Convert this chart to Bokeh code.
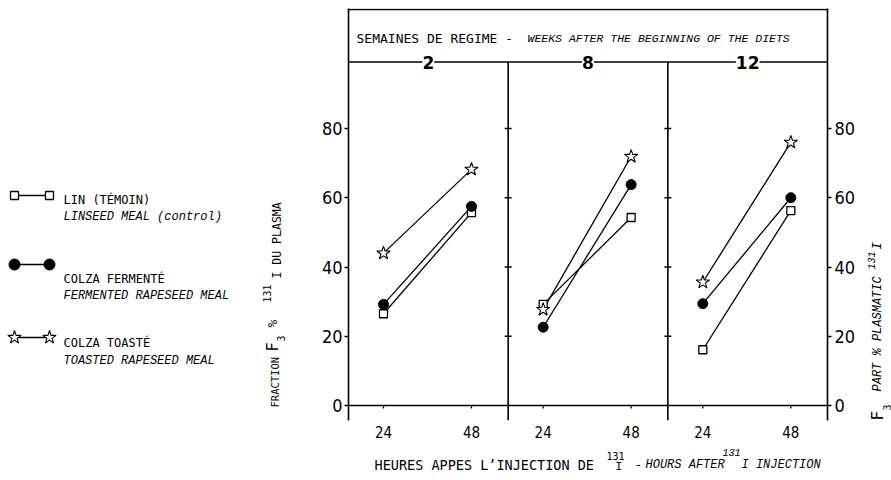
import math
from bokeh.plotting import figure
from bokeh.layouts import row, column
from bokeh.models import FixedTicker, LinearAxis, Label, Span, Range1d
from bokeh.embed import file_html
from bokeh.resources import INLINE

# ---------------- data ----------------
weeks = ["2", "8", "12"]                 # weeks after the beginning of the diets
hours = [24, 48]                          # hours after 131I injection
lin = [[26.5, 55.7], [29.2, 54.3], [16.1, 56.3]]   # LIN (TÉMOIN)
fer = [[29.2, 57.5], [22.6, 63.8], [29.4, 60.0]]   # COLZA FERMENTÉ
toa = [[44.0, 68.2], [27.7, 71.9], [35.6, 76.0]]   # COLZA TOASTÉ
y_ticks = [0, 20, 40, 60, 80]
x_tick_labels = ["24", "48"]

# ---------------- layout constants ----------------
PW = 43.55      # width of one panel in hours
H0 = 14.455     # hour value at left edge of a panel
FRAME_T, FRAME_B = 8, 420
FRAME_L, FRAME_W = 348, 479
ZERO_PX = 405
PX_PER_UNIT = 3.4625
Y0 = (ZERO_PX - FRAME_B) / PX_PER_UNIT
Y1 = (ZERO_PX - FRAME_T) / PX_PER_UNIT
HEADER_Y = 99.2
W_LEG = 290
W_RIGHT = 29
TOTAL_W = 891
ROW_H = 445
BOT_H = 35
W_MAIN = TOTAL_W - W_LEG - W_RIGHT
MB_L = FRAME_L - W_LEG
MB_R = W_MAIN - MB_L - FRAME_W

REG = "DejaVu Sans Mono"
ITA = "Liberation Mono"
NUM = "DejaVu Sans Condensed"


def X(pi, h):
    return pi * PW + h - H0


def px2x(ix):
    return (ix - FRAME_L) / FRAME_W * 3 * PW


def px2y(iy):
    return (ZERO_PX - iy) / PX_PER_UNIT


p = figure(width=W_MAIN, height=ROW_H, x_range=Range1d(0, 3 * PW), y_range=Range1d(Y0, Y1),
           output_backend="svg", toolbar_location=None, title=None,
           min_border_left=MB_L, min_border_right=MB_R, min_border_top=FRAME_T,
           min_border_bottom=ROW_H - FRAME_B)
p.grid.visible = False
p.outline_line_color = None
p.background_fill_color = "white"
p.border_fill_color = "white"


def style_y(ax, standoff):
    ax.ticker = FixedTicker(ticks=y_ticks)
    ax.minor_tick_line_color = None
    ax.major_tick_in = 0
    ax.major_tick_out = 4
    ax.major_tick_line_width = 1.3
    ax.axis_line_width = 1.6
    ax.axis_line_color = "black"
    ax.major_label_standoff = standoff
    ax.major_label_text_font = NUM
    ax.major_label_text_font_size = "18px"
    ax.major_label_text_color = "black"


style_y(p.yaxis[0], 2)
ra = LinearAxis()
style_y(ra, 3)
p.add_layout(ra, "right")

tick_x = []
overrides = {}
for pi in range(3):
    for h, lab_ in zip(hours, x_tick_labels):
        t = round(X(pi, h), 4)
        tick_x.append(t)
        overrides[t] = lab_
xa = p.xaxis[0]
xa.ticker = FixedTicker(ticks=tick_x)
xa.major_label_overrides = overrides
xa.axis_line_color = None
xa.major_tick_line_color = None
xa.minor_tick_line_color = None
xa.major_tick_in = 0
xa.major_tick_out = 0
xa.major_label_standoff = 5
xa.major_label_text_font = NUM
xa.major_label_text_font_size = "15px"
xa.major_label_text_color = "black"

# frame lines
p.add_layout(Span(location=0, dimension="width", line_color="black", line_width=1.4))
p.add_layout(Span(location=HEADER_Y, dimension="width", line_color="black", line_width=1.6))
p.add_layout(Span(location=Y1 - 0.3, dimension="width", line_color="black", line_width=1.4))

div_x = [PW, 2 * PW]
p.segment(x0=div_x, y0=[Y0] * 2, x1=div_x, y1=[HEADER_Y] * 2, line_color="black", line_width=1.6)
p.scatter(x=[d for d in div_x for _ in y_ticks[1:]], y=[t for _ in div_x for t in y_ticks[1:]],
          marker="dash", size=7, line_color="black", line_width=1.3)
p.segment(x0=tick_x, y0=[0] * len(tick_x), x1=tick_x, y1=[-0.9] * len(tick_x),
          line_color="black", line_width=1.2)

# series
for pi in range(3):
    xs = [X(pi, h) for h in hours]
    for vals in (lin[pi], fer[pi], toa[pi]):
        p.line(xs, vals, line_color="black", line_width=1.3)
    p.scatter(xs, lin[pi], marker="square", size=8, fill_color="white", line_color="black", line_width=1.3)
    p.scatter(xs, fer[pi], marker="circle", size=10, fill_color="black", line_color="black")
    p.scatter(xs, toa[pi], marker="star", size=14, fill_color="white", line_color="black", line_width=1.1)

# header
for pi, w in enumerate(weeks):
    p.add_layout(Label(x=(pi + 0.5) * PW, y=HEADER_Y, text=w, text_align="center", text_baseline="middle",
                       text_font="DejaVu Sans", text_font_style="bold", text_font_size="17px",
                       text_color="black", background_fill_color="white"))


def lab(fig, x, y, text, font=REG, size=12, style="normal", angle=0.0, align="left"):
    fig.add_layout(Label(x=x, y=y, text=text, text_font=font, text_font_size=f"{size}px",
                         text_font_style=style, text_align=align, text_baseline="middle",
                         angle=angle, text_color="black"))


lab(p, px2x(356), px2y(38), "SEMAINES DE REGIME -", size=13)
lab(p, px2x(527), px2y(38), "WEEKS AFTER THE BEGINNING OF THE DIETS", font=ITA, size=11.5, style="italic")

R = math.pi / 2


def text_fig(width, height, x0, y0, mb_top=0, mb_bottom=0):
    f = figure(width=width, height=height,
               x_range=Range1d(x0, x0 + width),
               y_range=Range1d(y0 + height - mb_top - mb_bottom, y0),
               output_backend="svg", toolbar_location=None, title=None,
               x_axis_location=None, y_axis_location=None,
               min_border_left=0, min_border_right=0,
               min_border_top=mb_top, min_border_bottom=mb_bottom)
    f.grid.visible = False
    f.outline_line_color = None
    return f


# ---------------- legend + left title panel ----------------
leg = text_fig(W_LEG, ROW_H, 0, FRAME_T, FRAME_T, ROW_H - FRAME_B)

legend_rows = [
    ("LIN (TÉMOIN)", "LINSEED MEAL (control)",
     dict(marker="square", size=8, fill_color="white", line_width=1.3), 195, 199, 216),
    ("COLZA FERMENTÉ", "FERMENTED RAPESEED MEAL",
     dict(marker="circle", size=11, fill_color="black"), 264, 278, 295),
    ("COLZA TOASTÉ", "TOASTED RAPESEED MEAL",
     dict(marker="star", size=14, fill_color="white", line_width=1.1), 337, 342, 360),
]
for fr, en, mk, my, t1, t2 in legend_rows:
    xs = [14, 49]
    leg.line(xs, [my] * 2, line_color="black", line_width=1.3)
    leg.scatter(xs, [my] * 2, line_color="black", **mk)
    lab(leg, 63, t1, fr, size=12)
    lab(leg, 63, t2, en, font=ITA, size=12, style="italic")

# left y title (rotated, reads bottom to top)
lab(leg, 274, 407, "FRACTION", size=10.5, angle=R)
lab(leg, 272, 351, "F", size=15, angle=R)
lab(leg, 280, 341, "3", size=10, angle=R)
lab(leg, 272, 327, "%", size=13, angle=R)
lab(leg, 266, 302, "131", size=10, angle=R)
lab(leg, 276, 278, "I DU PLASMA", size=11.5, angle=R)

# ---------------- right title panel ----------------
rfig = text_fig(W_RIGHT, ROW_H, TOTAL_W - W_RIGHT, FRAME_T, FRAME_T, ROW_H - FRAME_B)
lab(rfig, 877, 420, "F", size=16, angle=R)
lab(rfig, 886, 410, "3", size=10, angle=R)
lab(rfig, 877, 391, "PART % PLASMATIC", font=ITA, size=12, style="italic", angle=R)
lab(rfig, 871, 269, "131", font=ITA, size=10, style="italic", angle=R)
lab(rfig, 877, 249, "I", font=ITA, size=12, style="italic", angle=R)

# ---------------- bottom title panel ----------------
bot = text_fig(TOTAL_W, BOT_H, 0, ROW_H)
lab(bot, 374, 464, "HEURES APPES L\u2019INJECTION DE", size=13.5)
lab(bot, 606, 455, "131", size=10)
lab(bot, 615, 466, "I", size=11)
lab(bot, 634, 464, "-", size=13)
lab(bot, 645, 464, "HOURS AFTER", font=ITA, size=12, style="italic")
lab(bot, 722, 452, "131", font=ITA, size=10, style="italic")
lab(bot, 741, 464, "I INJECTION", font=ITA, size=12, style="italic")

layout = column(row(leg, p, rfig), bot)
open("out.html", "w").write(file_html(layout, INLINE))
